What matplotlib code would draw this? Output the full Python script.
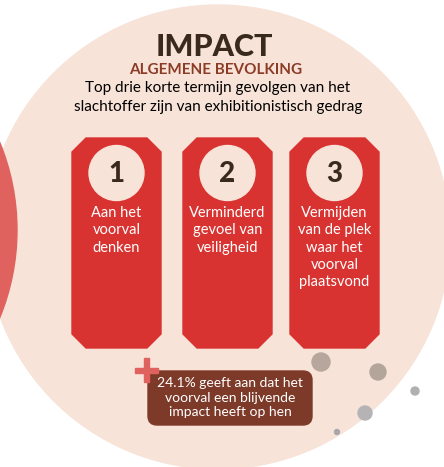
import matplotlib.pyplot as plt
from matplotlib.patches import Circle, Polygon, FancyBboxPatch, Rectangle

# kleuren
PEACH = "#f7e3d7"
RED = "#d93331"
CORAL = "#e0625e"
BROWN = "#7d3a28"
DARK = "#3a2a1e"
TITLE_RED = "#8c3b27"

FONT = "Lato"

# teksten
title = "IMPACT"
subtitle = "ALGEMENE BEVOLKING"
intro = ["Top drie korte termijn gevolgen van het",
         "slachtoffer zijn van exhibitionistisch gedrag"]
ranks = ["1", "2", "3"]
items = [["Aan het", "voorval", "denken"],
         ["Verminderd", "gevoel van", "veiligheid"],
         ["Vermijden", "van de plek", "waar het", "voorval", "plaatsvond"]]
note = ["24.1% geeft aan dat het", "voorval een blijvende", "impact heeft op hen"]

# layout (pixels)
W, H = 444, 467
card_left = [72, 183, 290]
card_w = 89
card_top, card_bot, cut = 138, 348, 14

fig = plt.figure(figsize=(W / 100, H / 100), dpi=100)
ax = fig.add_axes([0, 0, 1, 1])
ax.set_xlim(0, W)
ax.set_ylim(H, 0)
ax.axis("off")

# achtergrond cirkels
ax.add_patch(Circle((218, 237), 232, color=PEACH, zorder=1))
ax.add_patch(Circle((-214, 230), 231, color=CORAL, zorder=1))

# grijze stippen
dots = [(321, 362, 9, "#b6a69c"), (378, 372, 8, "#b4a59b"), (415, 391, 4, "#b1afb1"),
        (365, 413, 7, "#b5b3b5"), (337, 432, 2.5, "#a9a7a9")]
for x, y, r, c in dots:
    ax.add_patch(Circle((x, y), r, color=c, zorder=2))

ax.text(W / 2 - 8, 47, title, ha="center", va="center", fontsize=22,
        fontweight="black", color=DARK, family=FONT, zorder=5)
ax.text(W / 2 - 6, 70, subtitle, ha="center", va="center", fontsize=11,
        fontweight="bold", color=TITLE_RED, family=FONT, zorder=5)
for i, line in enumerate(intro):
    ax.text(W / 2 - 4, 88 + i * 19, line, ha="center", va="center", fontsize=11,
            color="black", family=FONT, zorder=5)

for i in range(3):
    x0 = card_left[i]
    x1 = x0 + card_w
    pts = [(x0 + cut, card_top), (x1 - cut, card_top), (x1, card_top + cut),
           (x1, card_bot - cut), (x1 - cut, card_bot), (x0 + cut, card_bot),
           (x0, card_bot - cut), (x0, card_top + cut)]
    ax.add_patch(Polygon(pts, closed=True, color=RED, zorder=3))
    cx = (x0 + x1) / 2
    ax.add_patch(Circle((cx, 173), 27.5, color=PEACH, zorder=4))
    ax.text(cx, 174, ranks[i], ha="center", va="center", fontsize=20,
            fontweight="black", color=DARK, family=FONT, zorder=5)
    for j, line in enumerate(items[i]):
        ax.text(cx, 213 + j * 17.3, line, ha="center", va="center", fontsize=10.5,
                color="white", family=FONT, zorder=5)

# notitie onderaan
ax.add_patch(FancyBboxPatch((154, 377), 152, 42, boxstyle="round,pad=6,rounding_size=9",
                            color=BROWN, zorder=4))
for j, line in enumerate(note):
    ax.text(230, 383 + j * 14.5, line, ha="center", va="center", fontsize=10,
            color="white", family=FONT, zorder=5)

# plusteken
ax.add_patch(Rectangle((144, 358), 5, 24, color=CORAL, zorder=5))
ax.add_patch(Rectangle((135, 367.5), 23, 5, color=CORAL, zorder=5))

fig.savefig("out.png", dpi=100, facecolor="white")
